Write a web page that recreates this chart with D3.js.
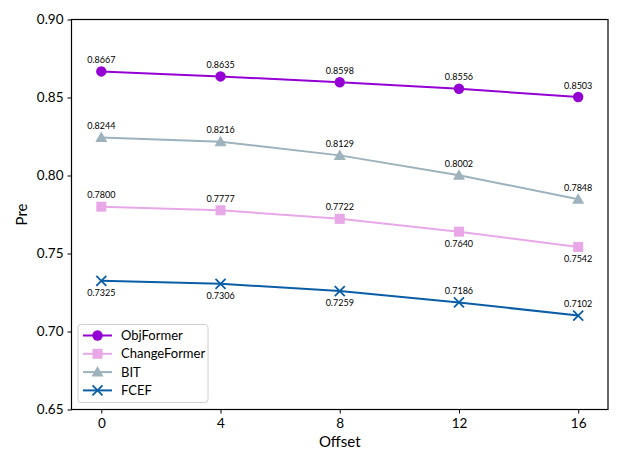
<!DOCTYPE html>
<html><head><meta charset="utf-8">
<script src="https://cdn.jsdelivr.net/npm/d3@7"></script>
<style>body{margin:0;background:#fff;} svg{display:block;font-family:Lato,"DejaVu Sans",sans-serif;}</style>
</head><body>
<svg id="c" width="623" height="467"></svg>
<script>
const offsets = [0, 4, 8, 12, 16];
const objFormer = [0.8667, 0.8635, 0.8598, 0.8556, 0.8503];
const changeFormer = [0.7800, 0.7777, 0.7722, 0.7640, 0.7542];
const bit = [0.8244, 0.8216, 0.8129, 0.8002, 0.7848];
const fcef = [0.7325, 0.7306, 0.7259, 0.7186, 0.7102];
const yTicks = [0.65, 0.70, 0.75, 0.80, 0.85, 0.90];
// label placement: 1 = above, -1 = below
const objPos = [1,1,1,1,1];
const cfPos = [1,1,1,-1,-1];
const bitPos = [1,1,1,1,1];
const fcefPos = [-1,-1,-1,1,1];

const series = [
  {name:"ObjFormer", values:objFormer, color:"#9400D3", marker:"circle", pos:objPos},
  {name:"ChangeFormer", values:changeFormer, color:"#E8A8E8", marker:"square", pos:cfPos},
  {name:"BIT", values:bit, color:"#9DB2BC", marker:"triangle", pos:bitPos},
  {name:"FCEF", values:fcef, color:"#0B5EA6", marker:"x", pos:fcefPos}
];

const L=71.5, R=608, T=19.5, B=409.5;
const svg = d3.select("#c");
const x = d3.scaleLinear().domain([-1,17]).range([L,R]);
const y = d3.scaleLinear().domain([0.65,0.90]).range([B,T]);

function drawMarker(g, type, cx, cy, color, s){
  if(type==="circle") g.append("circle").attr("cx",cx).attr("cy",cy).attr("r",5.2*s).attr("fill",color);
  else if(type==="square") g.append("rect").attr("x",cx-5*s).attr("y",cy-5*s).attr("width",10*s).attr("height",10*s).attr("fill",color);
  else if(type==="triangle") g.append("path").attr("d",`M${cx},${cy-6*s}L${cx+6*s},${cy+4.5*s}L${cx-6*s},${cy+4.5*s}Z`).attr("fill",color);
  else if(type==="x") g.append("path").attr("d",`M${cx-5*s},${cy-5*s}L${cx+5*s},${cy+5*s}M${cx-5*s},${cy+5*s}L${cx+5*s},${cy-5*s}`).attr("stroke",color).attr("stroke-width",1.8).attr("fill","none");
}

const line = d3.line().x((d,i)=>x(offsets[i])).y(d=>y(d));
series.forEach(s=>{
  const g = svg.append("g");
  g.append("path").datum(s.values).attr("d",line).attr("fill","none").attr("stroke",s.color).attr("stroke-width",2);
  s.values.forEach((v,i)=>{
    drawMarker(g, s.marker, x(offsets[i]), y(v), s.color, 1);
    const above = s.pos[i]===1;
    g.append("text").attr("x",x(offsets[i])).attr("y", above ? y(v)-8.5 : y(v)+15)
      .attr("text-anchor","middle").attr("font-size","9px").attr("fill","#000").text(v.toFixed(4));
  });
});

// axes
const xAxis = svg.append("g").attr("transform",`translate(0,${B})`)
  .call(d3.axisBottom(x).tickValues(offsets).tickSize(4).tickPadding(5));
const yAxis = svg.append("g").attr("transform",`translate(${L},0)`)
  .call(d3.axisLeft(y).tickValues(yTicks).tickFormat(d3.format(".2f")).tickSize(4).tickPadding(4));
[xAxis,yAxis].forEach(a=>{
  a.select(".domain").remove();
  a.selectAll("text").attr("font-size","13.5px").attr("fill","#000").attr("font-family","Lato");
  a.selectAll("line").attr("stroke","#000").attr("stroke-width",1);
});
svg.append("rect").attr("x",L).attr("y",T).attr("width",R-L).attr("height",B-T)
  .attr("fill","none").attr("stroke","#000").attr("stroke-width",1.2);

svg.append("text").attr("x",(L+R)/2).attr("y",447).attr("text-anchor","middle").attr("font-size","15px").text("Offset");
svg.append("text").attr("transform",`translate(27,${(T+B)/2}) rotate(-90)`).attr("text-anchor","middle").attr("font-size","15px").text("Pre");

// legend
const lg = svg.append("g");
lg.append("rect").attr("x",78).attr("y",324.5).attr("width",130).attr("height",78).attr("rx",3)
  .attr("fill","#fff").attr("fill-opacity",0.8).attr("stroke","#d0d0d0").attr("stroke-width",1);
series.forEach((s,i)=>{
  const cy = 335.5 + i*18.3;
  lg.append("line").attr("x1",83).attr("x2",112).attr("y1",cy).attr("y2",cy).attr("stroke",s.color).attr("stroke-width",2);
  drawMarker(lg, s.marker, 97.5, cy, s.color, 1);
  lg.append("text").attr("x",121).attr("y",cy+4.5).attr("font-size","13px").text(s.name);
});
</script>
</body></html>
